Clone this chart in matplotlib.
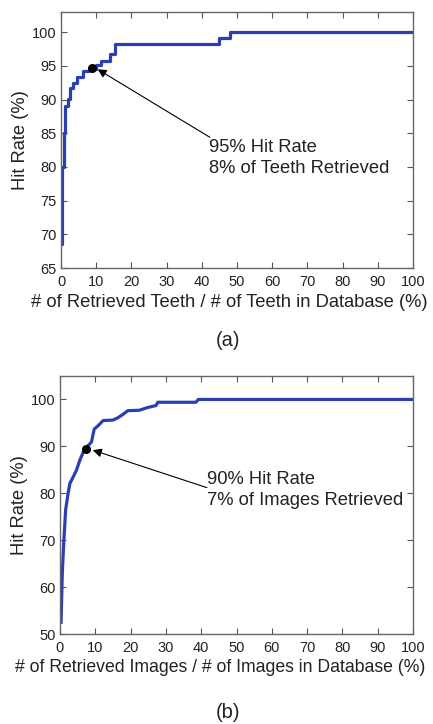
import numpy as np
import matplotlib.pyplot as plt

plt.rcParams['font.family'] = ['Liberation Sans', 'DejaVu Sans']

# (a) teeth retrieval curve (step)
teeth_x = [0.0, 0.4, 0.8, 1.2, 2.0, 2.6, 3.3, 4.5, 6.3, 8.0, 10.0, 11.4, 14.0, 15.2, 45.0, 48.0, 100.0]
teeth_y = [68.5, 80.0, 85.0, 89.1, 90.1, 91.7, 92.5, 93.3, 94.2, 94.5, 95.1, 95.8, 96.7, 98.3, 99.1, 100.0, 100.0]
teeth_pt = (8.7, 94.7)

# (b) image retrieval curve
img_x = [0.3, 0.65, 1.1, 1.6, 2.3, 2.8, 3.75, 4.7, 5.6, 6.6, 7.3, 8.0, 8.9, 9.7, 10.8, 12.2,
         15.0, 16.4, 17.8, 19.2, 22.5, 24.9, 27.2, 27.7, 38.5, 39.2, 100.0]
img_y = [52.5, 63.0, 70.0, 76.5, 80.0, 82.1, 83.5, 85.0, 87.0, 88.8, 89.4, 90.2, 90.9, 93.7, 94.4, 95.5,
         95.6, 96.1, 96.8, 97.6, 97.7, 98.3, 98.7, 99.4, 99.4, 100.0, 100.0]
img_pt = (7.4, 89.4)

W, H = 433, 724
fig = plt.figure(figsize=(W / 100, H / 100), dpi=100)

line_col = '#2b3fb5'
txt_col = '#222222'
fs = 13.2


def style_axes(ax):
    ax.tick_params(direction='in', top=True, right=True, length=4, width=0.8,
                   labelsize=10.5, colors='#555555', labelcolor=txt_col, pad=5)
    ax.tick_params(axis='y', pad=3)
    for s in ax.spines.values():
        s.set_color('#666666')
        s.set_linewidth(1.0)
    ax.set_xlim(0, 100)
    ax.set_xticks(np.arange(0, 101, 10))


def callout(ax, head, tail, text_xy, label):
    ax.annotate('', xy=head, xytext=tail,
                arrowprops=dict(arrowstyle='-|>', color='black', lw=0.8,
                                shrinkA=0, shrinkB=0, mutation_scale=13))
    ax.text(text_xy[0], text_xy[1], label, fontsize=fs, color=txt_col,
            va='top', ha='left', linespacing=1.28)


def px_text(x, y, s, size):
    fig.text(x / W, 1 - y / H, s, fontsize=size, color=txt_col, ha='center', va='center')


ax1 = fig.add_axes([61 / W, 1 - 268 / H, 352 / W, 256 / H])
ax1.plot(teeth_x, teeth_y, drawstyle='steps-post', color=line_col, lw=2.3)
ax1.plot(*teeth_pt, 'o', color='black', ms=5.5)
ax1.set_ylim(65, 103)
ax1.set_yticks(np.arange(65, 101, 5))
style_axes(ax1)
ax1.set_ylabel('Hit Rate (%)', fontsize=fs, color=txt_col, labelpad=2)
callout(ax1, (10.4, 94.5), (42.3, 84.4), (42.0, 84.1), '95% Hit Rate\n8% of Teeth Retrieved')

ax2 = fig.add_axes([60 / W, 1 - 634 / H, 353 / W, 258 / H])
ax2.plot(img_x, img_y, color=line_col, lw=2.3)
ax2.plot(*img_pt, 'o', color='black', ms=5.5)
ax2.set_ylim(50, 105)
ax2.set_yticks(np.arange(50, 101, 10))
style_axes(ax2)
ax2.set_ylabel('Hit Rate (%)', fontsize=fs, color=txt_col, labelpad=2)
callout(ax2, (9.3, 89.2), (41.6, 81.2), (41.6, 84.7), '90% Hit Rate\n7% of Images Retrieved')

px_text(229, 303, '# of Retrieved Teeth / # of Teeth in Database (%)', fs)
px_text(220, 667, '# of Retrieved Images / # of Images in Database (%)', 12.7)
px_text(228, 341, '(a)', 14.5)
px_text(228, 712, '(b)', 14.5)

fig.savefig('out.png', dpi=100)
